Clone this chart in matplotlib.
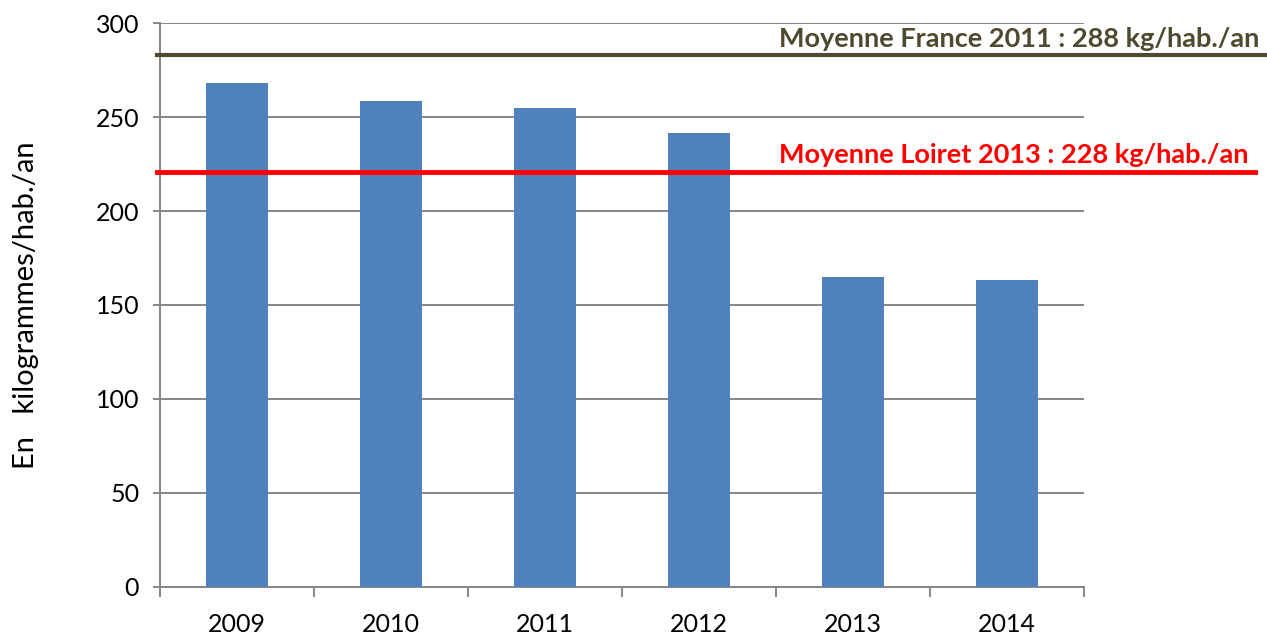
import matplotlib.pyplot as plt
import numpy as np

# data
years = ["2009", "2010", "2011", "2012", "2013", "2014"]
kg_per_hab = [268, 258.5, 255, 241.5, 165, 163.5]
france_level = 283
loiret_level = 221
france_label = "Moyenne France 2011 : 288 kg/hab./an"
loiret_label = "Moyenne Loiret 2013 : 228 kg/hab./an"

plt.rcParams['font.family'] = ['Lato', 'DejaVu Sans']

fig = plt.figure(figsize=(12.67, 6.35), dpi=100)
ax = fig.add_axes([0.1263, 0.0761, 0.7293, 0.8872])

x = np.arange(len(years))
ax.bar(x, kg_per_hab, width=0.4, color="#4f81bd", zorder=3)

ax.set_xlim(-0.5, len(years) - 0.5)
ax.set_ylim(0, 300)
ax.set_yticks(range(0, 301, 50))
ax.yaxis.grid(True, color="#868686", linewidth=1.4)
ax.set_axisbelow(True)

# category boundary ticks, labels in the middle
ax.set_xticks(np.arange(-0.5, len(years)), minor=False)
ax.set_xticklabels([])
ax.set_xticks(x, minor=True)
ax.set_xticklabels(years, minor=True)
ax.tick_params(axis="x", which="major", length=7, width=1.4, color="#868686")
ax.tick_params(axis="x", which="minor", length=0, pad=19, labelsize=18)
ax.tick_params(axis="y", length=5, width=1.4, color="#868686", labelsize=18, pad=10)

for s in ["top", "right"]:
    ax.spines[s].set_visible(False)
for s in ["left", "bottom"]:
    ax.spines[s].set_color("#868686")
    ax.spines[s].set_linewidth(1.4)

ax.set_ylabel("En   kilogrammes/hab./an", fontsize=21, labelpad=41)

# average lines running past the plot area
ax.axhline(france_level, xmin=-0.003, xmax=1.197, color="#4f4a2f", linewidth=3, clip_on=False, zorder=4)
ax.axhline(loiret_level, xmin=-0.003, xmax=1.185, color="#ff0000", linewidth=3.5, clip_on=False, zorder=4)

ax.text(1.19, france_level + 2.5, france_label, transform=ax.get_yaxis_transform(),
        ha="right", va="bottom", fontsize=19.5, fontweight="bold", color="#4f4a2f", clip_on=False)
ax.text(1.178, loiret_level + 2.5, loiret_label, transform=ax.get_yaxis_transform(),
        ha="right", va="bottom", fontsize=19.5, fontweight="bold", color="#ff0000", clip_on=False)

fig.savefig("out.png", dpi=100)
